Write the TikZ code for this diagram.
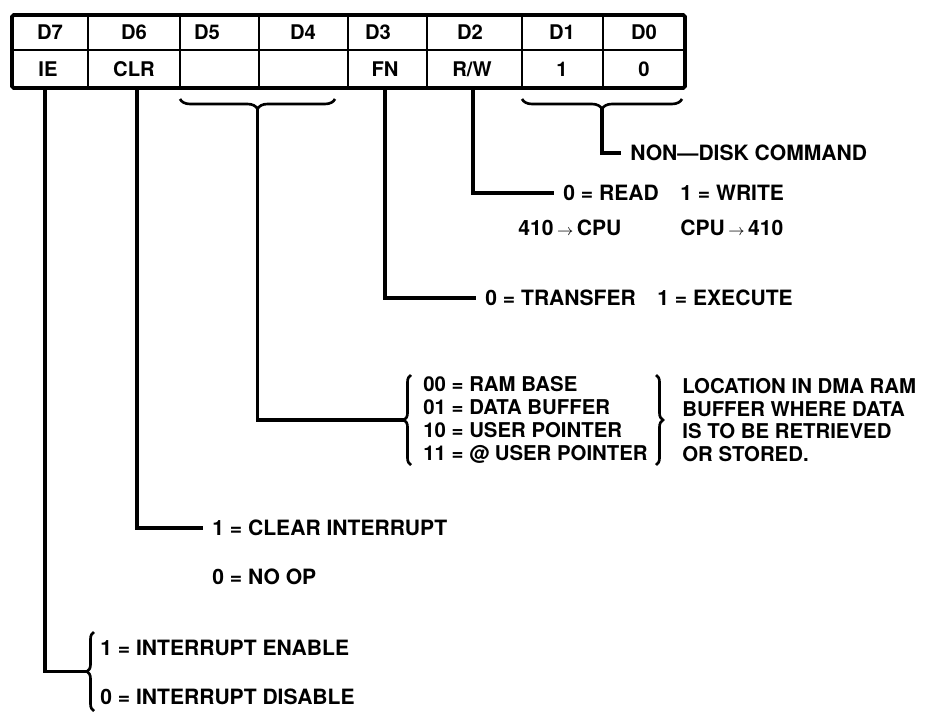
\documentclass[tikz,border=0pt]{standalone}
\usepackage{fontspec}
\setmainfont{TeX Gyre Heros}
\usetikzlibrary{positioning,decorations.pathreplacing,calc}

\begin{document}
\begin{tikzpicture}[
    x=0.02cm, y=-0.02cm,
    grid/.style={line width=1.3pt},
    frame/.style={line width=2.1pt, rounded corners=1pt},
    wire/.style={line width=1.8pt},
    lead/.style={wire, shorten >=0.18cm},
    bit/.style={font=\fontsize{11.5}{13}\selectfont\bfseries, inner sep=0pt},
    lbl/.style={font=\fontsize{12}{14}\selectfont\bfseries, inner sep=0pt, anchor=west},
    opts/.style={font=\fontsize{11.6}{13}\selectfont\bfseries, inner sep=0pt,
                 anchor=west, align=left},
    curly/.style={decorate, decoration={brace, amplitude=#1}, line width=1.5pt},
    curly/.default=0.14cm
]
\useasboundingbox (0,0) rectangle (945,713);

% Register layout
\draw[grid] (12,50) -- (685,50);
\foreach \x in {88,180,259,348,427,522,603}
    \draw[grid] (\x,15) -- (\x,88);
\draw[frame] (12,15) rectangle (685,88);

% Bit numbers
\foreach \x/\b in {50/7,134/6,207/5,303/4,378/3,470/2,562/1,644/0}
    \node[bit] (d\b) at (\x,32.5) {D\b};

% Field names
\node[bit] (ie) at (48,69) {IE};
\node[bit] (clr) at (134,69) {CLR};
\node[bit] (fn) at (385,69) {FN};
\node[bit] (rw) at (472,69) {R/W};
\node[bit] (one) at (562,69) {1};
\node[bit] (zero) at (644,69) {0};

% Pins under the register
\coordinate (ie-pin) at (45,88);
\coordinate (clr-pin) at (137,88);
\coordinate (fn-pin) at (385,88);
\coordinate (rw-pin) at (473,88);

% Braces under D5-D4 and D1-D0
\draw[curly=0.2cm] (335,99) -- (180,99);
\coordinate (d54tip) at (257.5,109);
\draw[curly=0.2cm] (682,99) -- (522,99);
\coordinate (d10tip) at (602,109);

% Descriptions
\node[lbl] (nodisk) at (630,153) {NON---DISK COMMAND};
\node[lbl] (rd) at (563,193) {0 = READ};
\node[lbl] (wr) at (680,193) {1 = WRITE};
\node[lbl] (tocpu) at (518,228) {410\,{\small$\rightarrow$}\,CPU};
\node[lbl] (from) at (680,228) {CPU\,{\small$\rightarrow$}\,410};
\node[lbl] (xfer) at (485,298) {0 = TRANSFER};
\node[lbl] (exec) at (657,298) {1 = EXECUTE};

\node[opts] (ramsel) at (423,420) {00 = RAM BASE\\01 = DATA BUFFER\\10 = USER POINTER\\11 = @ USER POINTER};
\node[opts] (where) at (682,420) {LOCATION IN DMA RAM\\BUFFER WHERE DATA\\IS TO BE RETRIEVED\\OR STORED.};
\draw[curly] (411,465) -- (411,375);
\coordinate (ramtip) at (404,420);
\draw[curly] (656,375) -- (656,465);

\node[lbl] (clrint) at (212,528) {1 = CLEAR INTERRUPT};
\node[lbl] (noop) at (212,577) {0 = NO OP};

\node[lbl] (ienable) at (100,648) {1 = INTERRUPT ENABLE};
\node[lbl] (idisable) at (100,697) {0 = INTERRUPT DISABLE};
\draw[curly] (94,711) -- (94,632);
\coordinate (ietip) at (87,671.5);

% Connectors
\draw[lead] (d10tip) |- (nodisk.west);
\draw[lead] (rw-pin) |- (rd.west);
\draw[lead] (fn-pin) |- (xfer.west);
\draw[wire] (d54tip) |- (ramtip);
\draw[lead] (clr-pin) |- (clrint.west);
\draw[wire] (ie-pin) |- (ietip);

\end{tikzpicture}
\end{document}
